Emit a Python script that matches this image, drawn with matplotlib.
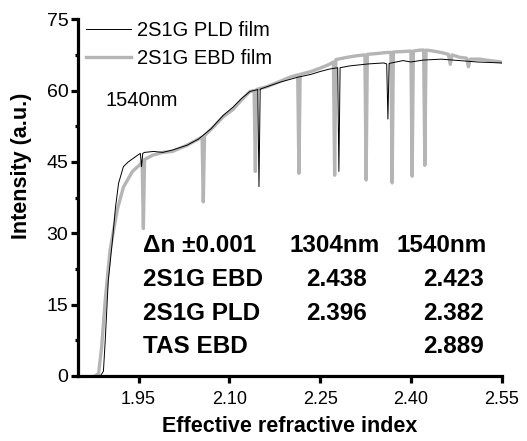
import numpy as np
import matplotlib
matplotlib.use('Agg')
import matplotlib.pyplot as plt
from matplotlib.ticker import MultipleLocator

plt.rcParams['font.family'] = ['Liberation Sans', 'DejaVu Sans']

# ===================== DATA =====================
# 2S1G EBD film (grey, thick)
n_ebd = [1.878, 1.884, 1.889, 1.895, 1.903, 1.915, 1.925, 1.940, 1.953, 1.956,
         1.958, 1.960, 1.973, 1.990, 2.006, 2.030, 2.049, 2.055, 2.057, 2.059,
         2.075, 2.090, 2.106, 2.120, 2.134, 2.141, 2.143, 2.145, 2.150, 2.162,
         2.185, 2.200, 2.213, 2.215, 2.217, 2.235, 2.250, 2.265, 2.272, 2.274,
         2.276, 2.295, 2.310, 2.324, 2.326, 2.328, 2.345, 2.360, 2.367, 2.369,
         2.371, 2.387, 2.400, 2.402, 2.404, 2.415, 2.421, 2.423, 2.425, 2.432,
         2.450, 2.462, 2.465, 2.468, 2.480, 2.492, 2.495, 2.498, 2.514, 2.530,
         2.550]
i_ebd = [0.0, 0.5, 6.0, 16.0, 26.5, 35.0, 39.7, 43.0, 44.5, 45.0,
         31.0, 45.5, 46.4, 47.0, 47.2, 48.5, 49.8, 50.2, 36.6, 50.5,
         52.5, 54.5, 56.0, 58.0, 59.8, 60.0, 43.0, 60.2, 60.4, 60.8,
         62.0, 62.8, 63.3, 42.6, 63.4, 64.0, 64.7, 65.5, 66.0, 42.2,
         66.5, 67.0, 67.3, 67.5, 41.2, 67.6, 67.8, 68.0, 68.0, 40.6,
         68.1, 68.2, 68.3, 42.0, 68.3, 68.5, 68.5, 44.3, 68.5, 68.4,
         68.0, 67.6, 65.5, 67.5, 67.0, 66.8, 65.0, 66.6, 66.6, 66.3,
         66.0]

# 2S1G PLD film (black, thin)
n_pld = [1.870, 1.887, 1.892, 1.895, 1.900, 1.907, 1.912, 1.917, 1.925, 1.933,
         1.944, 1.953, 1.955, 1.957, 1.960, 1.975, 1.990, 2.006, 2.030, 2.049,
         2.070, 2.090, 2.106, 2.120, 2.134, 2.147, 2.149, 2.151, 2.162, 2.185,
         2.213, 2.235, 2.250, 2.265, 2.279, 2.281, 2.283, 2.300, 2.330, 2.355,
         2.360, 2.362, 2.364, 2.387, 2.400, 2.420, 2.450, 2.480, 2.510, 2.550]
i_pld = [0.0, 0.0, 1.0, 7.5, 20.0, 28.6, 35.5, 40.5, 44.0, 45.0,
         46.0, 46.8, 44.0, 46.8, 47.0, 47.2, 47.0, 47.5, 48.5, 49.8,
         52.0, 54.8, 56.5, 58.3, 59.8, 60.2, 39.8, 60.3, 60.8, 61.8,
         62.8, 63.4, 64.0, 64.5, 64.8, 43.0, 64.8, 65.2, 65.6, 65.8,
         65.6, 54.0, 65.7, 66.3, 66.0, 66.4, 66.6, 66.3, 66.0, 65.8]

series_labels = ['2S1G PLD film', '2S1G EBD film']

table_rows = ['\u0394n \u00b10.001', '2S1G EBD', '2S1G PLD', 'TAS EBD']
table_1304 = ['1304nm', '2.438', '2.396', '']
table_1540 = ['1540nm', '2.423', '2.382', '2.889']

x_ticks = [1.95, 2.10, 2.25, 2.40, 2.55]
y_ticks = [0, 15, 30, 45, 60, 75]

# ===================== PLOT =====================
fig = plt.figure(figsize=(5.27, 4.41), dpi=100)
ax = fig.add_axes([0.148, 0.1474, 0.804, 0.8091])

ax.plot(n_pld, i_pld, color='black', linewidth=0.7, label=series_labels[0], zorder=2)
ax.plot(n_ebd, i_ebd, color='#b5b5b5', linewidth=2.4, label=series_labels[1], zorder=1)

ax.set_xlim(1.85, 2.55)
ax.set_ylim(0, 75)
ax.set_xticks(x_ticks)
ax.set_xticklabels([f"{v:.2f}" for v in x_ticks])
ax.set_yticks(y_ticks)
ax.yaxis.set_minor_locator(MultipleLocator(7.5))

for side in ['top', 'right']:
    ax.spines[side].set_visible(False)
for side in ['left', 'bottom']:
    ax.spines[side].set_linewidth(2.3)

ax.tick_params(axis='both', which='major', direction='out', length=5, width=2.3, pad=2)
ax.tick_params(axis='y', which='minor', direction='out', length=2.5, width=2.3)
ax.tick_params(axis='x', labelsize=13, pad=6)
ax.tick_params(axis='y', labelsize=14)

ax.set_xlabel('Effective refractive index', fontsize=15.5, fontweight='bold')
ax.set_ylabel('Intensity (a.u.)', fontsize=15.5, fontweight='bold')
ax.xaxis.set_label_coords(0.5, -0.113)
ax.yaxis.set_label_coords(-0.108, 0.59)

ax.legend(loc='upper left', bbox_to_anchor=(0.01, 1.005), frameon=False,
          fontsize=14.5, handlelength=2.2, handletextpad=0.3,
          labelspacing=0.45, borderpad=0.2, borderaxespad=0.0)

ax.text(1.895, 58, '1540nm', fontsize=14.5, va='center', ha='left')

row_y = [27.5, 20.2, 13.2, 6.1]
for k in range(len(table_rows)):
    ax.text(1.958, row_y[k], table_rows[k], fontsize=17.5, fontweight='bold', va='center', ha='left')
    x1 = 2.199 if k == 0 else 2.227
    x2 = 2.377 if k == 0 else 2.420
    ax.text(x1, row_y[k], table_1304[k], fontsize=17.5, fontweight='bold', va='center', ha='left')
    ax.text(x2, row_y[k], table_1540[k], fontsize=17.5, fontweight='bold', va='center', ha='left')

fig.savefig('out.png', dpi=100)
